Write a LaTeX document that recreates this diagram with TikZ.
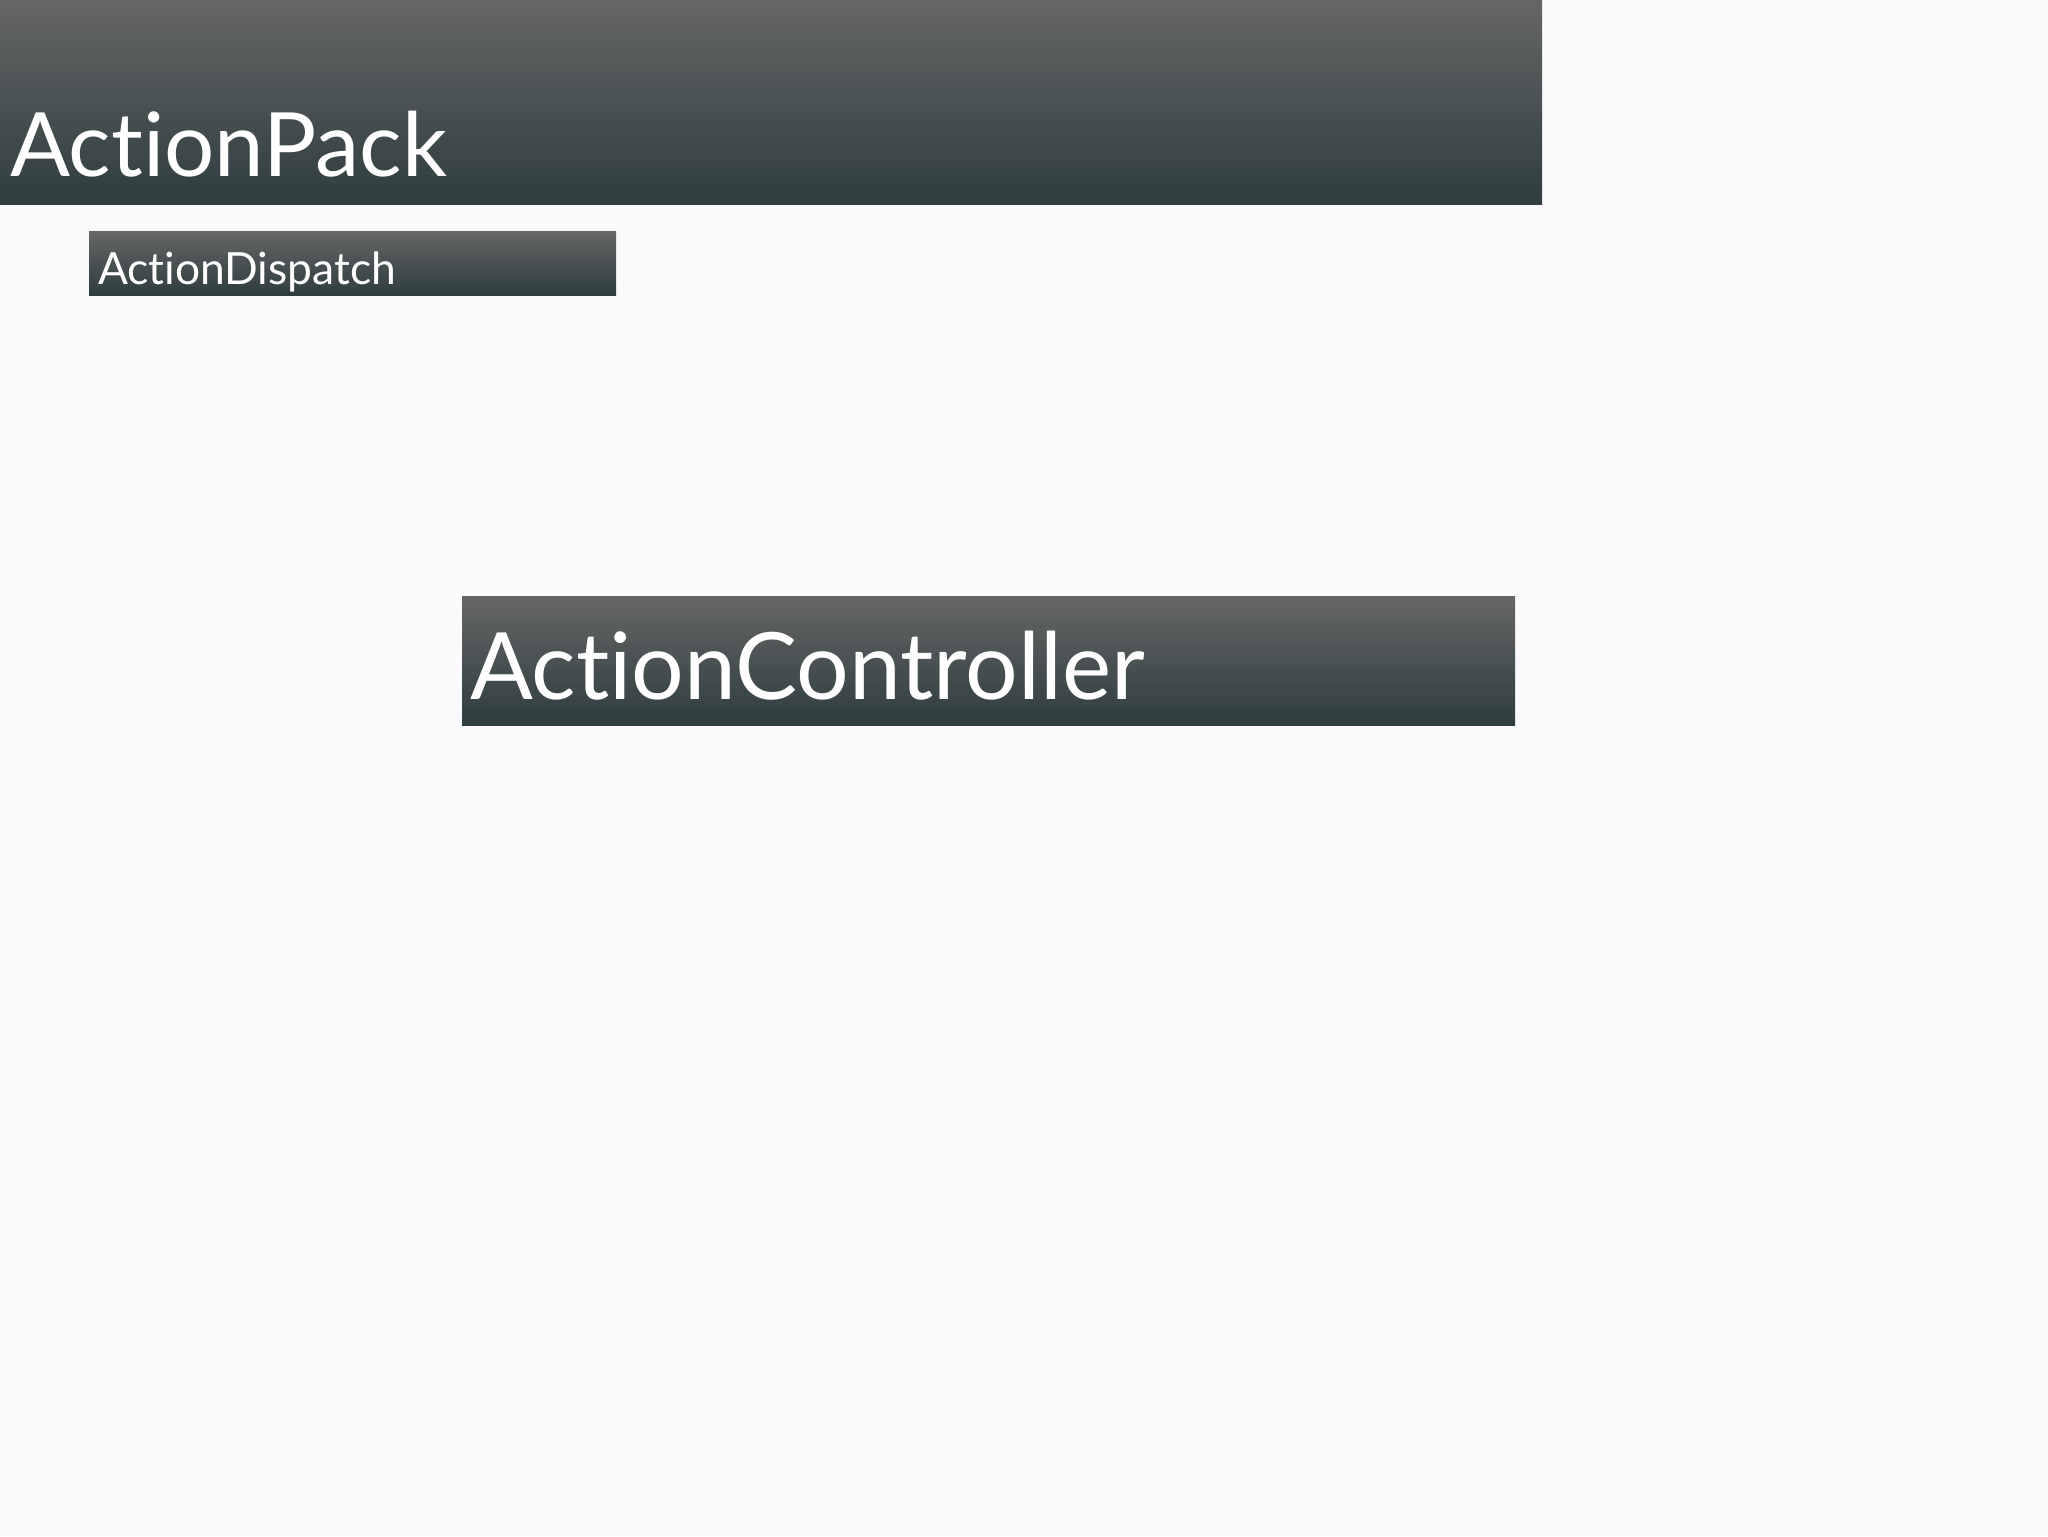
\documentclass[tikz,border=0pt]{standalone}
\usepackage{fontspec}
\setmainfont{Lato}[Ligatures=NoCommon]
\usepackage{graphicx}
\definecolor{bgc}{RGB}{250,250,252}
\definecolor{gtop}{RGB}{102,102,102}
\definecolor{gbot}{RGB}{46,61,63}
\begin{document}
\begin{tikzpicture}[x=0.1mm,y=-0.1mm,
  bar/.style={anchor=north west,inner sep=0pt,outer sep=0pt,top color=gtop,bottom color=gbot,draw=none},
  lbl/.style={anchor=base west,inner sep=0pt,outer sep=0pt,text=white}]
\fill[bgc] (0,0) rectangle (2048,1536);
\useasboundingbox (0,0) rectangle (2048,1536);
\node[bar,minimum width=154.2mm,minimum height=20.4mm] (packbar) at (0,0) {};
\node[lbl] (packtxt) at (10,176) {\resizebox{43.7mm}{!}{ActionPack}};
\node[bar,minimum width=52.7mm,minimum height=6.4mm] (dispbar) at (89,231) {};
\node[lbl] (disptxt) at (98,284) {\resizebox{29.8mm}{!}{ActionDispatch}};
\node[bar,minimum width=105.3mm,minimum height=12.9mm] (ctrlbar) at (462,596) {};
\node[lbl] (ctrltxt) at (470,699) {\resizebox{67.5mm}{!}{ActionController}};
\end{tikzpicture}
\end{document}
